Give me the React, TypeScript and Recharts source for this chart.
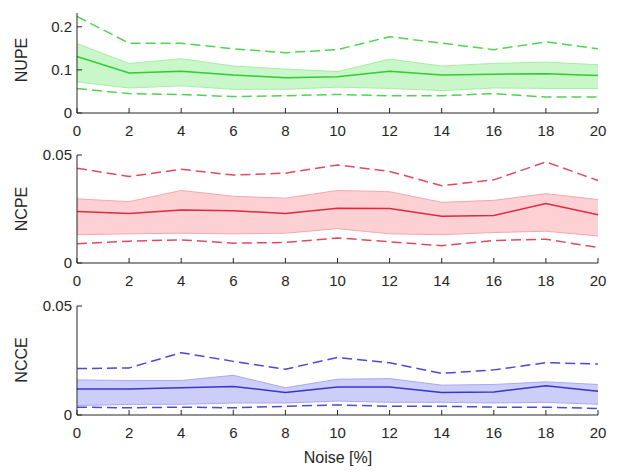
import { ComposedChart, Area, Line, XAxis, YAxis } from "recharts";

const noise = [0, 2, 4, 6, 8, 10, 12, 14, 16, 18, 20];
const xTicks = [0, 2, 4, 6, 8, 10, 12, 14, 16, 18, 20];

// NUPE
const nupeMean = [0.131, 0.093, 0.097, 0.088, 0.082, 0.084, 0.097, 0.088, 0.09, 0.091, 0.087];
const nupeBandLo = [0.072, 0.058, 0.063, 0.055, 0.055, 0.06, 0.057, 0.052, 0.058, 0.057, 0.057];
const nupeBandHi = [0.161, 0.115, 0.126, 0.109, 0.102, 0.096, 0.125, 0.109, 0.115, 0.118, 0.112];
const nupeDashLo = [0.057, 0.045, 0.043, 0.038, 0.04, 0.043, 0.04, 0.04, 0.045, 0.037, 0.037];
const nupeDashHi = [0.224, 0.162, 0.162, 0.149, 0.14, 0.147, 0.177, 0.162, 0.147, 0.165, 0.149];

// NCPE
const ncpeMean = [0.0239, 0.0229, 0.0245, 0.0242, 0.0229, 0.0254, 0.0252, 0.0217, 0.022, 0.0275, 0.0223];
const ncpeBandLo = [0.0131, 0.0135, 0.0138, 0.0135, 0.0138, 0.0159, 0.0135, 0.0131, 0.0141, 0.0147, 0.0125];
const ncpeBandHi = [0.0297, 0.0284, 0.0336, 0.0309, 0.03, 0.0336, 0.033, 0.0281, 0.029, 0.0321, 0.0294];
const ncpeDashLo = [0.0089, 0.0101, 0.0107, 0.0092, 0.0095, 0.0116, 0.0098, 0.008, 0.0104, 0.011, 0.0072];
const ncpeDashHi = [0.0439, 0.040, 0.0434, 0.0407, 0.0416, 0.0454, 0.0424, 0.0358, 0.0385, 0.0468, 0.0382];

// NCCE
const ncceMean = [0.0119, 0.0119, 0.0125, 0.0131, 0.0103, 0.0128, 0.0128, 0.0103, 0.0106, 0.0134, 0.0109];
const ncceBandLo = [0.0043, 0.0049, 0.0049, 0.0055, 0.0055, 0.0064, 0.0058, 0.0058, 0.0055, 0.0058, 0.0049];
const ncceBandHi = [0.0161, 0.0158, 0.0158, 0.0182, 0.0125, 0.0164, 0.0167, 0.0137, 0.014, 0.0152, 0.014];
const ncceDashLo = [0.0036, 0.0033, 0.0036, 0.0033, 0.004, 0.0046, 0.004, 0.004, 0.0036, 0.0036, 0.003];
const ncceDashHi = [0.0213, 0.0216, 0.0286, 0.0246, 0.021, 0.0264, 0.024, 0.0191, 0.0207, 0.024, 0.0234];

const textColor = "#262626";
const font = "'Liberation Sans', Arial, sans-serif";

function buildRows(mean: number[], lo: number[], hi: number[], dlo: number[], dhi: number[]) {
  return noise.map((n, i) => ({
    noise: n,
    mean: mean[i],
    lo: lo[i],
    hi: hi[i],
    band: [lo[i], hi[i]],
    dlo: dlo[i],
    dhi: dhi[i],
  }));
}

type Palette = { line: string; dash: string; fill: string; edge: string };

function Panel({
  rows,
  palette,
  yMax,
  yTicks,
  top,
  height,
  marginTop,
  marginBottom,
}: {
  rows: ReturnType<typeof buildRows>;
  palette: Palette;
  yMax: number;
  yTicks: number[];
  top: number;
  height: number;
  marginTop: number;
  marginBottom: number;
}) {
  return (
    <div style={{ position: "absolute", left: 0, top }}>
      <ComposedChart
        width={624}
        height={height}
        data={rows}
        margin={{ top: marginTop, right: 26, bottom: marginBottom, left: 0 }}
      >
        <XAxis
          type="number"
          dataKey="noise"
          domain={[0, 20]}
          ticks={xTicks}
          height={25}
          tickSize={-5}
          tickMargin={17}
          tick={{ fill: textColor, fontSize: 15, fontFamily: font }}
          axisLine={{ stroke: textColor }}
          tickLine={{ stroke: textColor }}
        />
        <YAxis
          type="number"
          domain={[0, yMax]}
          ticks={yTicks}
          width={77}
          tickSize={-5}
          tickMargin={10}
          tick={{ fill: textColor, fontSize: 15, fontFamily: font }}
          axisLine={{ stroke: textColor }}
          tickLine={{ stroke: textColor }}
          allowDataOverflow
        />
        <Area
          type="linear"
          dataKey="band"
          fill={palette.fill}
          fillOpacity={1}
          stroke="none"
          isAnimationActive={false}
        />
        <Line type="linear" dataKey="lo" stroke={palette.edge} strokeWidth={1} dot={false} isAnimationActive={false} />
        <Line type="linear" dataKey="hi" stroke={palette.edge} strokeWidth={1} dot={false} isAnimationActive={false} />
        <Line
          type="linear"
          dataKey="dhi"
          stroke={palette.dash}
          strokeWidth={1.5}
          strokeDasharray="10 5"
          dot={false}
          isAnimationActive={false}
        />
        <Line
          type="linear"
          dataKey="dlo"
          stroke={palette.dash}
          strokeWidth={1.5}
          strokeDasharray="10 5"
          dot={false}
          isAnimationActive={false}
        />
        <Line type="linear" dataKey="mean" stroke={palette.line} strokeWidth={1.5} dot={false} isAnimationActive={false} />
      </ComposedChart>
    </div>
  );
}

const green: Palette = { line: "#2ccf2c", dash: "#4fd44f", fill: "#c9f7c9", edge: "#a6eea6" };
const red: Palette = { line: "#e3283c", dash: "#e24a5a", fill: "#fdd0d3", edge: "#f3a8b0" };
const blue: Palette = { line: "#3636cc", dash: "#4a4ad2", fill: "#cdcdfa", edge: "#a9a9f2" };

function YTitle({ label, cy }: { label: string; cy: number }) {
  return (
    <text
      x={21}
      y={cy}
      transform={`rotate(-90, 21, ${cy})`}
      textAnchor="middle"
      dominantBaseline="central"
      fill={textColor}
      fontSize={16}
      fontFamily={font}
    >
      {label}
    </text>
  );
}

export default function App() {
  return (
    <div style={{ position: "absolute", left: 0, top: 0, width: 624, height: 472, background: "#fff" }}>
      <Panel
        rows={buildRows(nupeMean, nupeBandLo, nupeBandHi, nupeDashLo, nupeDashHi)}
        palette={green}
        yMax={0.232}
        yTicks={[0, 0.1, 0.2]}
        top={0}
        height={145}
        marginTop={13}
        marginBottom={7}
      />
      <Panel
        rows={buildRows(ncpeMean, ncpeBandLo, ncpeBandHi, ncpeDashLo, ncpeDashHi)}
        palette={red}
        yMax={0.05}
        yTicks={[0, 0.05]}
        top={145}
        height={150}
        marginTop={10}
        marginBottom={7}
      />
      <Panel
        rows={buildRows(ncceMean, ncceBandLo, ncceBandHi, ncceDashLo, ncceDashHi)}
        palette={blue}
        yMax={0.05}
        yTicks={[0, 0.05]}
        top={295}
        height={177}
        marginTop={11}
        marginBottom={32}
      />
      <svg width={624} height={472} style={{ position: "absolute", left: 0, top: 0, pointerEvents: "none" }}>
        <YTitle label="NUPE" cy={60} />
        <YTitle label="NCPE" cy={209} />
        <YTitle label="NCCE" cy={360} />
        <text x={338} y={457} textAnchor="middle" dominantBaseline="central" fill={textColor} fontSize={16} fontFamily={font}>
          Noise [%]
        </text>
      </svg>
    </div>
  );
}
